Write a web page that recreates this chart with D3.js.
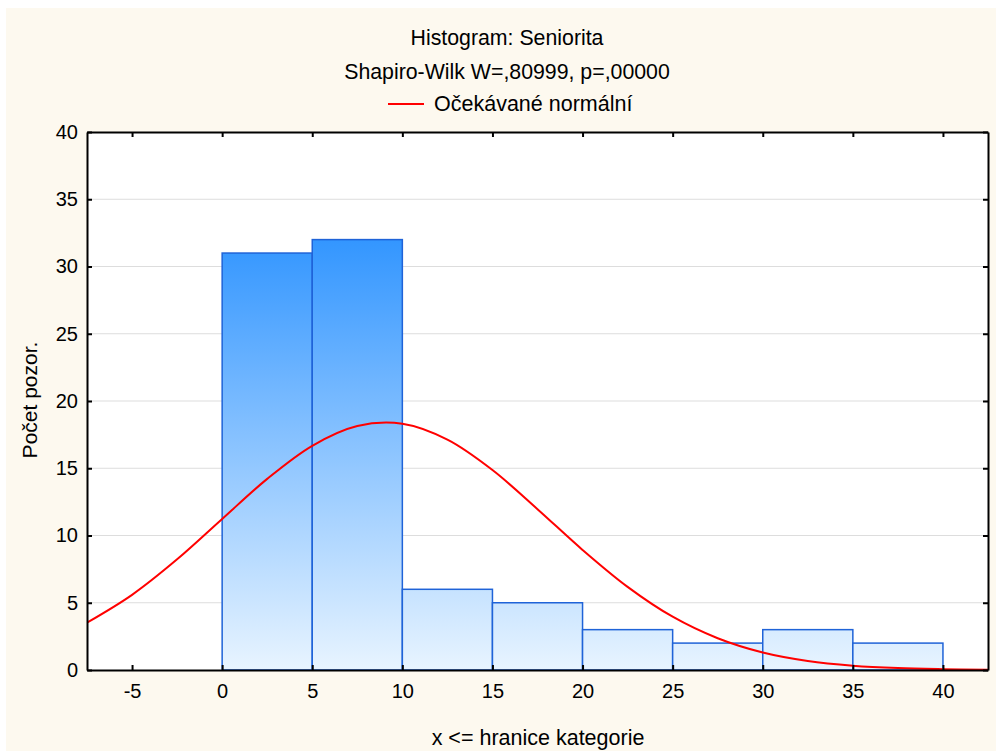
<!DOCTYPE html>
<html>
<head>
<meta charset="utf-8">
<script src="https://cdn.jsdelivr.net/npm/d3@7/dist/d3.min.js"></script>
<style>
  html, body { margin: 0; padding: 0; background: #ffffff; }
  svg { display: block; }
  text { font-family: "Liberation Sans", Arial, sans-serif; fill: #000; }
</style>
</head>
<body>
<svg id="chart" width="996" height="751"></svg>
<script>
// Histogram bins (upper bounds of each 5-wide class) and counts
const binStarts = [0, 5, 10, 15, 20, 25, 30, 35];
const binWidth = 5;
const counts = [31, 32, 6, 5, 3, 2, 3, 2];

// Expected normal frequency curve
const normalX = [-7.5, -5, -2.5, 0, 2.5, 5, 7.5, 10, 12.5, 15, 17.5, 20, 22.5, 25, 27.5, 30, 32.5, 35, 37.5, 40, 42.5];
const normalY = [3.52, 5.59, 8.23, 11.23, 14.21, 16.67, 18.14, 18.31, 17.13, 14.87, 11.96, 8.93, 6.18, 3.96, 2.36, 1.30, 0.67, 0.32, 0.14, 0.06, 0.02];

const xTicks = [-5, 0, 5, 10, 15, 20, 25, 30, 35, 40];
const yTicks = [0, 5, 10, 15, 20, 25, 30, 35, 40];

const titleText = "Histogram: Seniorita";
const subtitleText = "Shapiro-Wilk W=,80999, p=,00000";
const legendText = "Očekávané normální";
const xLabel = "x <= hranice kategorie";
const yLabel = "Počet pozor.";

const svg = d3.select("#chart");
const W = 996, H = 751;
const m = { left: 87, right: 8, top: 132, bottom: 81 };

svg.append("rect")
  .attr("x", 6).attr("y", 8)
  .attr("width", W - 6).attr("height", H - 8)
  .attr("fill", "#fdf9ef");

const x = d3.scaleLinear().domain([-7.5, 42.5]).range([m.left, W - m.right]);
const y = d3.scaleLinear().domain([0, 40]).range([H - m.bottom, m.top]);

const defs = svg.append("defs");
const grad = defs.append("linearGradient")
  .attr("id", "barFill")
  .attr("gradientUnits", "userSpaceOnUse")
  .attr("x1", 0).attr("x2", 0)
  .attr("y1", y(32)).attr("y2", y(0));
grad.append("stop").attr("offset", 0).attr("stop-color", "#3396ff");
grad.append("stop").attr("offset", 1).attr("stop-color", "#e8f4ff");

// plot background
svg.append("rect")
  .attr("x", x(-7.5)).attr("y", y(40))
  .attr("width", x(42.5) - x(-7.5)).attr("height", y(0) - y(40))
  .attr("fill", "#ffffff");

// horizontal grid
svg.append("g")
  .selectAll("line")
  .data(yTicks.filter(d => d > 0 && d < 40))
  .join("line")
  .attr("x1", x(-7.5)).attr("x2", x(42.5))
  .attr("y1", d => y(d)).attr("y2", d => y(d))
  .attr("stroke", "#dddddd").attr("stroke-width", 1);

// bars
svg.append("g")
  .selectAll("rect")
  .data(binStarts.map((b, i) => ({ b, c: counts[i] })))
  .join("rect")
  .attr("x", d => x(d.b))
  .attr("y", d => y(d.c))
  .attr("width", d => x(d.b + binWidth) - x(d.b))
  .attr("height", d => y(0) - y(d.c))
  .attr("fill", "url(#barFill)")
  .attr("stroke", "#1f63d8")
  .attr("stroke-width", 1.5);

// expected normal curve
const line = d3.line()
  .x((d, i) => x(normalX[i]))
  .y(d => y(d))
  .curve(d3.curveCatmullRom);
const clip = defs.append("clipPath").attr("id", "plotClip");
clip.append("rect")
  .attr("x", x(-7.5)).attr("y", y(40))
  .attr("width", x(42.5) - x(-7.5)).attr("height", y(0) - y(40));
svg.append("path")
  .datum(normalY)
  .attr("d", line)
  .attr("clip-path", "url(#plotClip)")
  .attr("fill", "none")
  .attr("stroke", "#ff0000")
  .attr("stroke-width", 2);

// axes with inward ticks on all four sides
const tickLen = 5;
const fs = 20;
const fmt = d => String(d); // plain hyphen for negatives
const axB = svg.append("g").attr("transform", `translate(0,${y(0)})`)
  .call(d3.axisBottom(x).tickValues(xTicks).tickFormat(fmt).tickSizeInner(-tickLen).tickSizeOuter(0).tickPadding(14));
const axT = svg.append("g").attr("transform", `translate(0,${y(40)})`)
  .call(d3.axisTop(x).tickValues(xTicks).tickSizeInner(-tickLen).tickSizeOuter(0).tickFormat(""));
const axL = svg.append("g").attr("transform", `translate(${x(-7.5)},0)`)
  .call(d3.axisLeft(y).tickValues(yTicks).tickFormat(fmt).tickSizeInner(-tickLen).tickSizeOuter(0).tickPadding(14));
const axR = svg.append("g").attr("transform", `translate(${x(42.5)},0)`)
  .call(d3.axisRight(y).tickValues(yTicks).tickSizeInner(-tickLen).tickSizeOuter(0).tickFormat(""));

[axB, axT, axL, axR].forEach(a => {
  a.select(".domain").attr("stroke", "#000").attr("stroke-width", 2);
  a.selectAll(".tick line").attr("stroke", "#000").attr("stroke-width", 2);
  a.selectAll("text").attr("font-family", "'Liberation Sans', Arial, sans-serif")
    .attr("font-size", fs).attr("fill", "#000");
});
axL.selectAll(".tick text").attr("dx", "5");
axB.selectAll(".tick text").attr("dy", "0.72em");

// titles
svg.append("text").attr("x", 507).attr("y", 45)
  .attr("text-anchor", "middle").attr("font-size", 21.3).text(titleText);
svg.append("text").attr("x", 507).attr("y", 79)
  .attr("text-anchor", "middle").attr("font-size", 21.3).text(subtitleText);

// legend
svg.append("line")
  .attr("x1", 388).attr("x2", 424).attr("y1", 104).attr("y2", 104)
  .attr("stroke", "#ff0000").attr("stroke-width", 2);
svg.append("text").attr("x", 434).attr("y", 111)
  .attr("font-size", 21.5).text(legendText);

// axis labels
svg.append("text").attr("x", 538).attr("y", 745)
  .attr("text-anchor", "middle").attr("font-size", 21.5).text(xLabel);
svg.append("text")
  .attr("transform", `translate(37,400) rotate(-90)`)
  .attr("text-anchor", "middle").attr("font-size", 21).text(yLabel);
</script>
</body>
</html>
